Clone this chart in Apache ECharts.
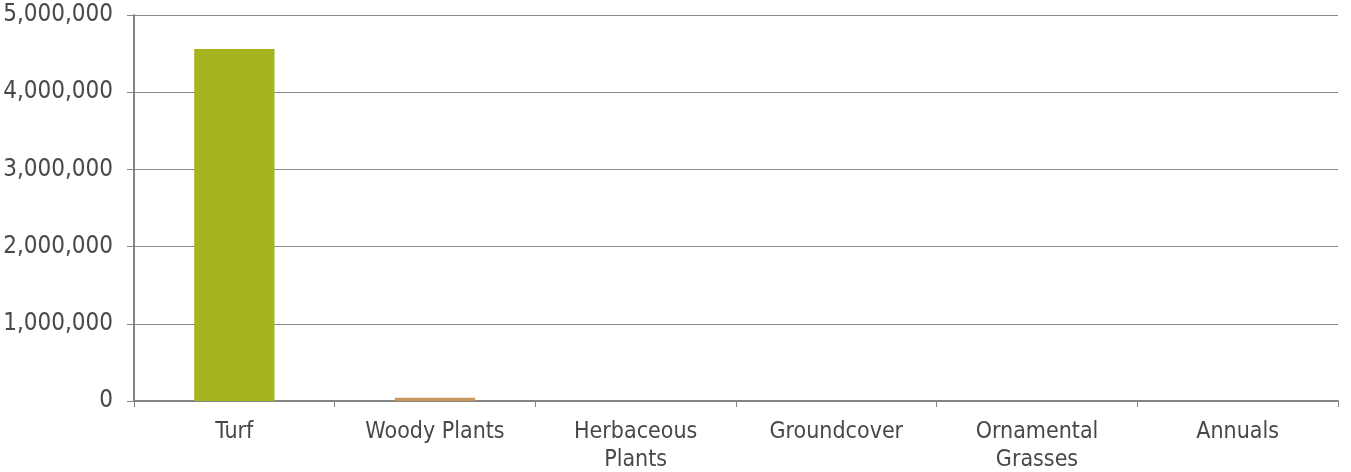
<!DOCTYPE html>
<html><head><meta charset="utf-8">
<script src="https://cdn.jsdelivr.net/npm/echarts@6/dist/echarts.min.js"></script>
<style>html,body{margin:0;padding:0;background:#fff}#c{width:1351px;height:472px}</style>
</head><body><div id="c"></div>
<script>
const categories = ["Turf", "Woody Plants", "Herbaceous Plants", "Groundcover", "Ornamental Grasses", "Annuals"];
const categoryLabels = ["Turf", "Woody Plants", "Herbaceous\nPlants", "Groundcover", "Ornamental\nGrasses", "Annuals"];
const values = [4560000, 43000, 0, 0, 0, 0];
const barColors = ["#a5b41e", "#c9985e", "#a5b41e", "#a5b41e", "#a5b41e", "#a5b41e"];
const yTicks = [0, 1000000, 2000000, 3000000, 4000000, 5000000];

const font = "'Liberation Sans Narrow','DejaVu Sans Condensed',sans-serif";
const chart = echarts.init(document.getElementById('c'), null, {renderer: 'canvas'});
chart.setOption({
  animation: false,
  grid: {left: 134, right: 13, top: 15, bottom: 71, containLabel: false, outerBoundsMode: 'none'},
  xAxis: {
    type: 'category',
    data: categories,
    axisLine: {lineStyle: {color: '#858585', width: 2}},
    axisTick: {show: true, alignWithLabel: false, length: 6, lineStyle: {color: '#858585', width: 1}},
    axisLabel: {
      interval: 0, margin: 17, color: '#484848', fontFamily: font, fontSize: 23, lineHeight: 28,
      formatter: (v, i) => categoryLabels[i]
    }
  },
  yAxis: {
    type: 'value', min: yTicks[0], max: yTicks[yTicks.length - 1], interval: 1000000,
    axisLine: {show: true, lineStyle: {color: '#858585', width: 2}},
    axisTick: {show: true, length: 7, lineStyle: {color: '#858585'}},
    splitLine: {lineStyle: {color: '#8a8a8a', width: 1}},
    axisLabel: {
      margin: 21, color: '#484848', fontFamily: font, fontSize: 24, padding: [6, 0, 0, 0],
      formatter: v => v.toLocaleString('en-US')
    }
  },
  series: [{
    type: 'bar',
    data: values.map((v, i) => ({value: v, itemStyle: {color: barColors[i]}})),
    barWidth: '40%'
  }]
});
</script></body></html>
